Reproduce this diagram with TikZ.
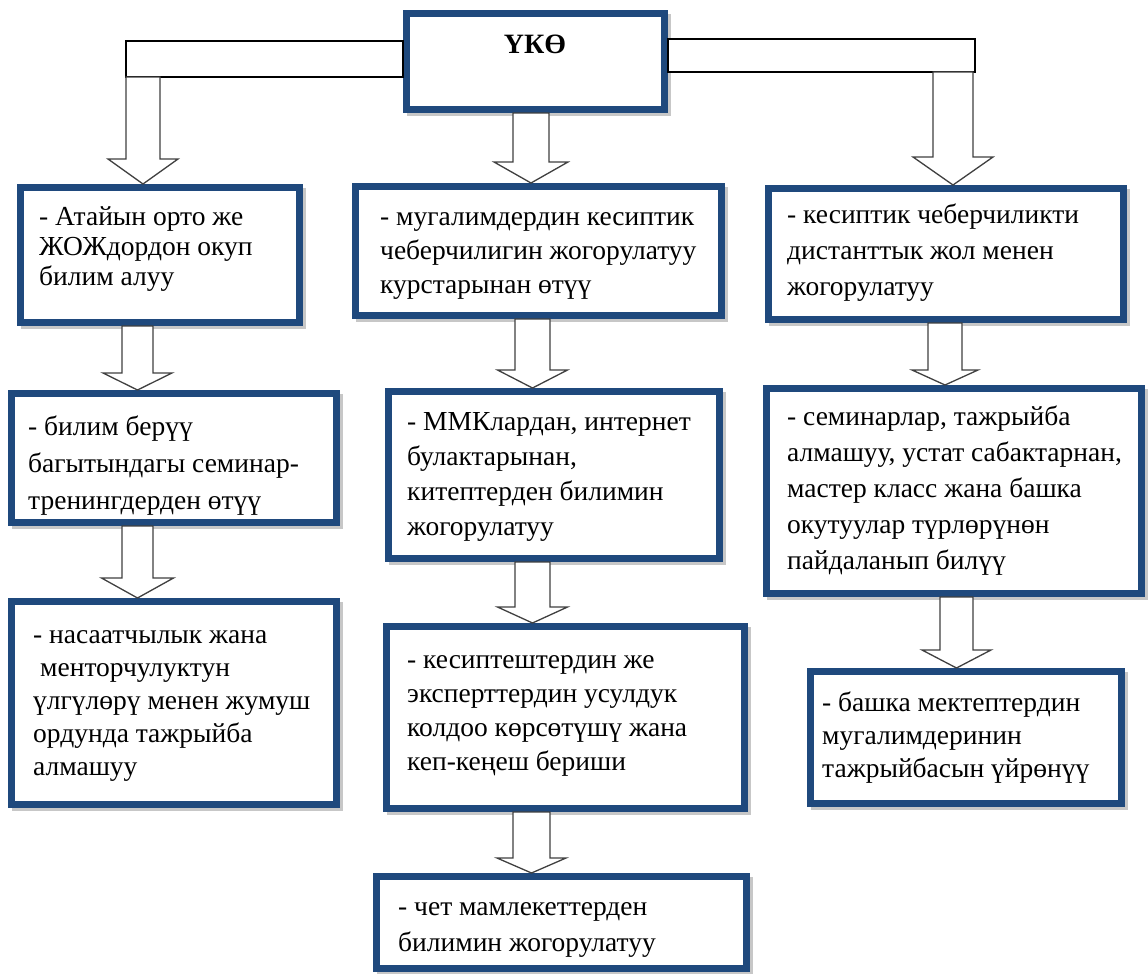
\documentclass[tikz,border=0pt]{standalone}
\usepackage{fontspec}
\setmainfont{Liberation Serif}
\usetikzlibrary{calc}
\definecolor{boxblue}{HTML}{1F497D}
\definecolor{shadowgray}{HTML}{9A9A9A}
\tikzset{
  boxnode/.style={draw=boxblue, line width=7pt, fill=white, rectangle, inner sep=0pt, outer sep=3.5pt, anchor=north west},
  txtnode/.style={anchor=north west, inner sep=0pt, align=left, font={\fontsize{27.5}{#1}\selectfont}, text=black},
  titlenode/.style={inner sep=0pt, anchor=base, font=\bfseries\fontsize{28}{34}\selectfont, text=black},
  blockarrow/.style={draw=black!75, line width=1.3pt, fill=white, line join=miter},
  barstyle/.style={draw=black, line width=1.3pt, fill=white},
}
% name, x1, y1, x2, y2, text x, first baseline y, baselineskip, text
\newcommand\tbox[9]{%
  \fill[shadowgray, opacity=0.55] ({#2+4},{#3+4}) rectangle ({#4+3},{#5+3});
  \node[boxnode, minimum width={#4-#2-7}, minimum height={#5-#3-7}] (#1) at (#2,#3) {};
  \node[txtnode=#8] (#1t) at (#6,{#7-0.7*#8}) {\strut#9};
}
% from, to, center x, shaft half width, head half width, head length
\newcommand\darrow[6]{%
  \draw[blockarrow] let \p1=(#1), \p2=(#2) in
   ({(#3-#4)*1pt},\y1) -- ({(#3-#4)*1pt},{\y2+#6*1pt}) -- ({(#3-#5)*1pt},{\y2+#6*1pt})
   -- ({#3*1pt},\y2) -- ({(#3+#5)*1pt},{\y2+#6*1pt}) -- ({(#3+#4)*1pt},{\y2+#6*1pt})
   -- ({(#3+#4)*1pt},\y1) -- cycle;
}
\begin{document}
\begin{tikzpicture}[x=1pt,y=-1pt]
\useasboundingbox (0,0) rectangle (1148,974);
\fill[white] (0,0) rectangle (1148,974);

% title box
\fill[shadowgray, opacity=0.55] (407,14) rectangle (671,116);
\node[boxnode, minimum width=258, minimum height=96] (top) at (403,10) {};
\node[titlenode] (topt) at (535,53) {ҮКӨ};

% bars from the title box
\coordinate (lbtop) at (126,41);
\coordinate (lbbot) at (126,77);
\coordinate (rbtop) at (975,39);
\coordinate (rbbot) at (975,72);
\draw[barstyle] (lbtop) rectangle (top.west |- lbbot);
\draw[barstyle] (top.east |- rbtop) rectangle (rbbot);
\coordinate (lbar) at (143,77);
\coordinate (rbar) at (953,72);

% boxes
\tbox{L1}{17}{184}{303}{326}{39}{225}{30}{- Атайын орто же\\ЖОЖдордон окуп\\билим алуу}
\tbox{M1}{352}{183}{725}{319}{380}{225}{34}{- мугалимдердин кесиптик\\чеберчилигин жогорулатуу\\курстарынан өтүү}
\tbox{R1}{765}{185}{1127}{323}{787}{223}{36}{- кесиптик чеберчиликти\\дистанттык жол менен\\жогорулатуу}
\tbox{L2}{8}{390}{340}{526}{28}{435}{37}{- билим берүү\\багытындагы семинар-\\тренингдерден өтүү}
\tbox{M2}{385}{388}{723}{562}{407}{430}{35}{- ММКлардан, интернет\\булактарынан,\\китептерден билимин\\жогорулатуу}
\tbox{R2}{763}{385}{1145}{597}{787}{425}{36}{- семинарлар, тажрыйба\\алмашуу, устат сабактарнан,\\мастер класс жана башка\\окутуулар түрлөрүнөн\\пайдаланып билүү}
\tbox{L3}{8}{598}{340}{808}{33}{643}{33}{- насаатчылык жана\\\hspace*{7pt}менторчулуктун\\үлгүлөрү менен жумуш\\ордунда тажрыйба\\алмашуу}
\tbox{M3}{383}{623}{748}{812}{407}{668}{34}{- кесиптештердин же\\эксперттердин усулдук\\колдоо көрсөтүшү жана\\кеп-кеңеш бериши}
\tbox{R3}{807}{668}{1125}{807}{822}{711}{33}{- башка мектептердин\\мугалимдеринин\\тажрыйбасын үйрөнүү}
\tbox{M4}{373}{873}{750}{972}{398}{915}{36}{- чет мамлекеттерден\\билимин жогорулатуу}

% block arrows
\darrow{lbar}{L1.north}{143}{17}{35}{25}
\darrow{top.south}{M1.north}{531}{18}{37}{21}
\darrow{rbar}{R1.north}{953}{20}{40}{28}
\darrow{L1.south}{L2.north}{137.5}{15.5}{34.5}{17}
\darrow{L2.south}{L3.north}{137.5}{15.5}{36}{20}
\darrow{M1.south}{M2.north}{532.5}{17.5}{35}{18}
\darrow{M2.south}{M3.north}{532.5}{17.5}{35}{16}
\darrow{M3.south}{M4.north}{531.5}{18.5}{34.5}{15}
\darrow{R1.south}{R2.north}{945}{17}{33}{15}
\darrow{R2.south}{R3.north}{956.5}{16.5}{34.5}{18}
\end{tikzpicture}
\end{document}
